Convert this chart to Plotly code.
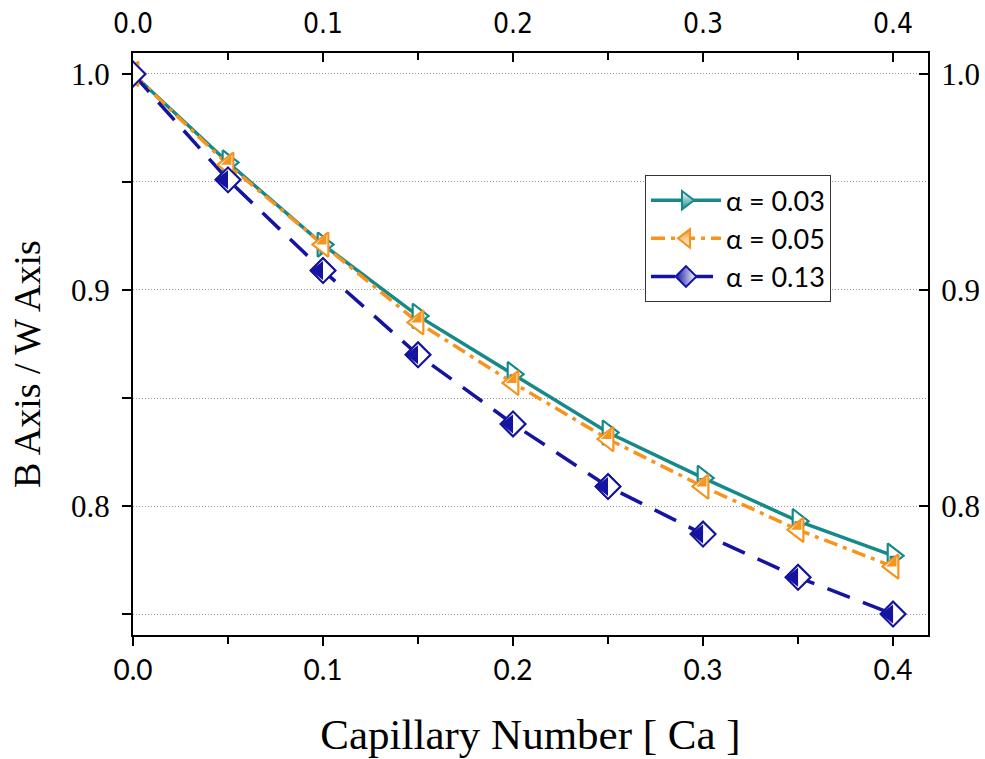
import plotly.graph_objects as go

# ---------------- data ----------------
ca = [0.0, 0.05, 0.10, 0.15, 0.20, 0.25, 0.30, 0.35, 0.40]
alpha_003 = [1.000, 0.959, 0.921, 0.888, 0.861, 0.834, 0.813, 0.793, 0.777]
alpha_005 = [1.000, 0.958, 0.921, 0.885, 0.857, 0.831, 0.809, 0.789, 0.772]
alpha_013 = [1.000, 0.951, 0.909, 0.870, 0.838, 0.809, 0.787, 0.767, 0.750]
series_names = ["α = 0.03", "α = 0.05", "α = 0.13"]
x_ticks = [0.0, 0.1, 0.2, 0.3, 0.4]
y_ticks = [0.8, 0.9, 1.0]
x_title = "Capillary Number [ Ca ]"
y_title = "B Axis / W Axis"

# ---------------- style ----------------
TEAL = "#16898A"
ORANGE = "#F7941D"
NAVY = "#1414A0"
LW = 3.5
SERIF = "Liberation Serif"
SANS = "Lato"
NARROW = "DejaVu Sans Condensed, Liberation Sans Narrow, Liberation Sans"

TRI = 21          # triangle marker size
DIA = 19          # diamond marker size
tri_R = TRI / 2
tri_r = tri_R / 1.8
dia_h = 1.3 * DIA / 2
dia_r = dia_h / 1.5

series = [
    dict(y=alpha_003, name=series_names[0], color=TEAL, dash="solid",
         sym="triangle-right", size=TRI, grad=dict(type="vertical"), mcol="white", gcol=TEAL,
         fill=dict(symbol="triangle-nw", size=2 * tri_r, standoff=0.6 * tri_r, angle=0)),
    dict(y=alpha_005, name=series_names[1], color=ORANGE, dash="14px,6px,4px,6px",
         sym="triangle-left", size=TRI, grad=dict(type="vertical"), mcol=ORANGE, gcol="white",
         fill=dict(symbol="triangle-nw", size=2 * tri_r, standoff=0.6 * tri_r, angle=180)),
    dict(y=alpha_013, name=series_names[2], color=NAVY, dash="24px,14px",
         sym="diamond", size=DIA, grad=dict(type="horizontal"), mcol=NAVY, gcol="white",
         fill=dict(symbol="triangle-down", size=2 * dia_r, standoff=0.5 * dia_r, angle=90)),
]

fig = go.Figure()

# lines (with legend entries)
for s in series:
    fig.add_trace(go.Scatter(
        x=ca, y=s["y"], name=s["name"], mode="lines+markers",
        line=dict(color=s["color"], width=LW, dash=s["dash"]),
        marker=dict(symbol=s["sym"], size=s["size"], color=s["mcol"],
                    gradient=dict(type=s["grad"]["type"], color=s["gcol"]),
                    line=dict(color=s["color"], width=2)),
        hoverinfo="skip",
    ))

# half-filled markers: white body with outline, then coloured half
for s in series:
    fig.add_trace(go.Scatter(
        x=ca, y=s["y"], mode="markers", showlegend=False, hoverinfo="skip",
        marker=dict(symbol=s["sym"], size=s["size"], color="white",
                    line=dict(color=s["color"], width=2)),
    ))
    f = s["fill"]
    fig.add_trace(go.Scatter(
        x=ca, y=s["y"], mode="markers", showlegend=False, hoverinfo="skip",
        marker=dict(symbol=f["symbol"], size=f["size"], color=s["color"],
                    standoff=f["standoff"], angle=f["angle"], line=dict(width=0)),
    ))

# dummy trace for the mirrored axes
fig.add_trace(go.Scatter(x=[None], y=[None], xaxis="x2", yaxis="y2",
                         showlegend=False, hoverinfo="skip"))

x_range = [0.0, 0.4184]
y_range = [0.7403, 1.0097]

fig.update_layout(
    width=985, height=759,
    paper_bgcolor="white", plot_bgcolor="white",
    margin=dict(l=133, r=57, t=53, b=124, autoexpand=False),
    xaxis=dict(
        range=x_range, tickvals=x_ticks, ticktext=[f"{v:.1f}" for v in x_ticks],
        ticks="outside", ticklen=9, tickwidth=2, tickcolor="black",
        minor=dict(tickvals=[0.05, 0.15, 0.25, 0.35], ticks="outside", ticklen=7,
                   tickwidth=2, tickcolor="black"),
        showline=True, linewidth=2, linecolor="black",
        showgrid=False, zeroline=False,
        tickfont=dict(family=SANS, size=28, color="black"),
        ticklabelstandoff=0,
        title=dict(text=x_title, standoff=34,
                   font=dict(family=SERIF, size=43, color="black")),
    ),
    xaxis2=dict(
        overlaying="x", side="top", anchor="y", range=x_range,
        tickvals=x_ticks, ticktext=[f"{v:.1f}" for v in x_ticks],
        ticks="inside", ticklen=9, tickwidth=2, tickcolor="black",
        minor=dict(tickvals=[0.05, 0.15, 0.25, 0.35], ticks="inside", ticklen=7,
                   tickwidth=2, tickcolor="black"),
        showline=True, linewidth=2, linecolor="black",
        showgrid=False, zeroline=False,
        tickfont=dict(family=NARROW, size=28, color="black"),
        ticklabelstandoff=7,
    ),
    yaxis=dict(
        range=y_range, tickvals=y_ticks, ticktext=[f"{v:.1f}" for v in y_ticks],
        ticks="outside", ticklen=9, tickwidth=2, tickcolor="black",
        showline=True, linewidth=2, linecolor="black",
        showgrid=True, gridcolor="#9a9a9a", gridwidth=1, griddash="1px,2px",
        minor=dict(tickvals=[0.75, 0.85, 0.95], ticks="outside", ticklen=9,
                   tickwidth=2, tickcolor="black",
                   showgrid=True, gridcolor="#9a9a9a", gridwidth=1, griddash="1px,2px"),
        zeroline=False,
        tickfont=dict(family=SERIF, size=31, color="black"),
        ticklabelstandoff=6,
    ),
    yaxis2=dict(
        overlaying="y", side="right", anchor="x", range=y_range,
        tickvals=y_ticks, ticktext=[f"{v:.1f}" for v in y_ticks],
        ticks="inside", ticklen=9, tickwidth=2, tickcolor="black",
        showline=True, linewidth=2, linecolor="black",
        showgrid=False, zeroline=False,
        tickfont=dict(family=SERIF, size=31, color="black"),
        ticklabelstandoff=5,
    ),
    legend=dict(
        x=0.644, y=0.79, xanchor="left", yanchor="top",
        bgcolor="white", bordercolor="#333333", borderwidth=1,
        font=dict(family=SANS, size=27, color="black"),
        itemwidth=70, tracegroupgap=0,
    ),
    annotations=[dict(
        text=y_title, textangle=-90, xref="paper", yref="paper",
        x=-0.1333, y=0.4656, xanchor="center", yanchor="middle", showarrow=False,
        font=dict(family=SERIF, size=38, color="black"),
    )],
    showlegend=True,
)

fig.write_html("out.html")
